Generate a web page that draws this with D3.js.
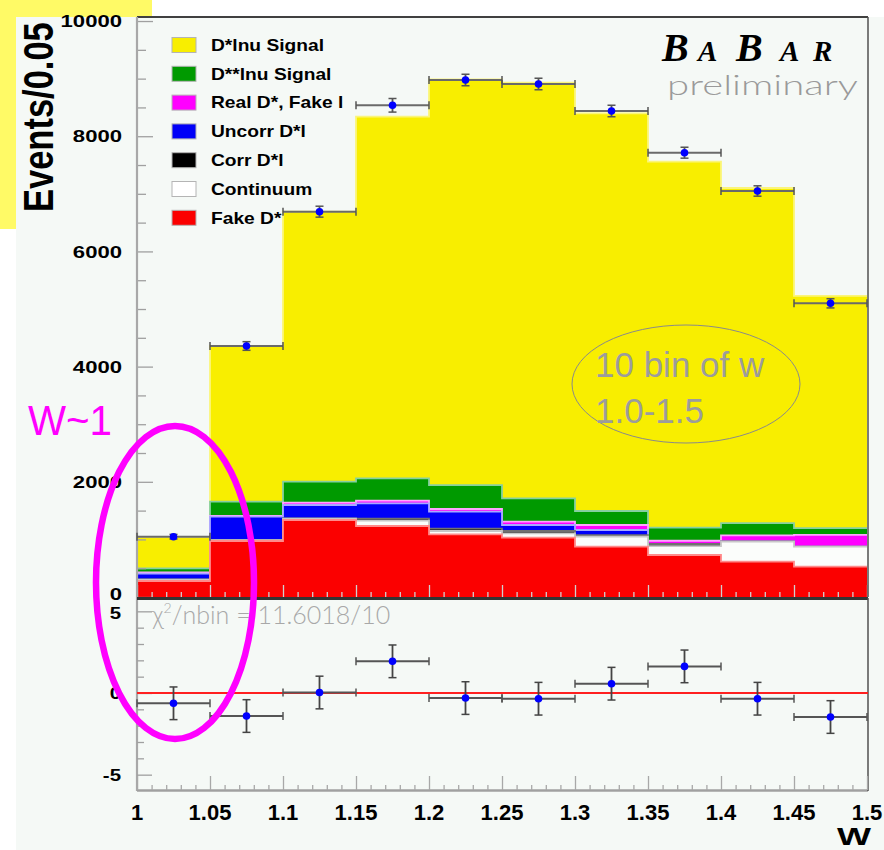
<!DOCTYPE html>
<html>
<head>
<meta charset="utf-8">
<script src="https://cdn.jsdelivr.net/npm/d3@7"></script>
<style>
  html, body { margin: 0; padding: 0; background: #ffffff; }
  svg { display: block; font-family: "Liberation Sans", Arial, Helvetica, sans-serif; }
</style>
</head>
<body>
<svg id="chart" width="884" height="850"></svg>
<script>
// ---- binning in w ----
const binLow  = [1.00, 1.05, 1.10, 1.15, 1.20, 1.25, 1.30, 1.35, 1.40, 1.45];
const binHigh = [1.05, 1.10, 1.15, 1.20, 1.25, 1.30, 1.35, 1.40, 1.45, 1.50];

// ---- stacked MC components (events per bin), bottom to top ----
const fakeDstar   = [278, 972, 1337, 1233, 1088, 1030, 873, 729, 613, 526];
const continuum   = [25, 13, 25, 92, 58, 76, 174, 156, 347, 347];
const corrDl      = [4, 5, 3, 35, 40, 40, 29, 35, 5, 3];
const uncorrDl    = [98, 404, 232, 266, 295, 104, 87, 0, 0, 0];
const realDfakeL  = [20, 16, 40, 46, 47, 58, 87, 57, 104, 203];
const dssLnu      = [73, 245, 365, 388, 416, 406, 243, 226, 215, 116];
const dsLnu       = [542, 2703, 4688, 6279, 7044, 7215, 6905, 6355, 5817, 4034];

const layerKeys   = ["fake", "cont", "corr", "uncorr", "real", "dss", "ds"];
const layerNames  = ["Fake D*", "Continuum", "Corr D*l", "Uncorr D*l", "Real D*, Fake l", "D**lnu Signal", "D*lnu Signal"];
const layerColors = ["#fb0000", "#fbfdfb", "#000000", "#0000f8", "#ff00ff", "#009a00", "#f8ee00"];
const layerEdges  = ["#ff8a8a", "#c8c8c8", "#707070", "#a8a8ff", "#ffa6ff", "#86cfa0", "#fbf57a"];

// ---- data ----
const dataCounts = [1047, 4358, 6690, 8537, 8976, 8907, 8438, 7714, 7049, 5099];
const dataErrors = [40, 75, 95, 118, 100, 100, 100, 95, 90, 80];

// ---- residuals (data - MC) / sigma ----
const residuals      = [-0.63, -1.41, 0.03, 1.94, -0.31, -0.35, 0.57, 1.63, -0.35, -1.47];
const residualErrors = [1, 1, 1, 1, 1, 1, 1, 1, 1, 1];

// ---- tick labels ----
const yMainTicks   = [0, 2000, 4000, 6000, 8000, 10000];
const yResTicks    = [-5, 0, 5];
const xTickValues  = [1, 1.05, 1.1, 1.15, 1.2, 1.25, 1.3, 1.35, 1.4, 1.45, 1.5];
const xTickLabels  = ["1", "1.05", "1.1", "1.15", "1.2", "1.25", "1.3", "1.35", "1.4", "1.45", "1.5"];

const svg = d3.select("#chart");
const SERIF = "'Liberation Serif', 'DejaVu Serif', 'Times New Roman', serif";
const THIN = "Lato, 'Open Sans', 'DejaVu Sans', sans-serif";

// scales
const x  = d3.scaleLinear().domain([1, 1.5]).range([137, 867]);
const y  = d3.scaleLinear().domain([0, 10070]).range([597, 17]);
const yr = d3.scaleLinear().domain([-6, 6]).range([791, 595]);

// page: highlight box behind the axis title, then the canvas
svg.append("rect").attr("x", 0).attr("y", 0).attr("width", 152).attr("height", 229).attr("fill", "#fffa66");
svg.append("rect").attr("x", 16).attr("y", 17).attr("width", 868).attr("height", 833).attr("fill", "#f5f9f6");

// ---- stacked histogram ----
const rows = binLow.map((lo, i) => ({
  lo, hi: binHigh[i],
  fake: fakeDstar[i], cont: continuum[i], corr: corrDl[i], uncorr: uncorrDl[i],
  real: realDfakeL[i], dss: dssLnu[i], ds: dsLnu[i]
}));
const series = d3.stack().keys(layerKeys)(rows);

const histG = svg.append("g");
// draw the cumulative histograms from the largest down, each one covering the lower part
for (let k = series.length - 1; k >= 0; k--) {
  const s = series[k];
  histG.selectAll(null).data(s).enter().append("rect")
    .attr("x", d => x(d.data.lo))
    .attr("width", d => x(d.data.hi) - x(d.data.lo))
    .attr("y", d => y(d[1]))
    .attr("height", d => y(0) - y(d[1]))
    .attr("fill", layerColors[k]);
  // top outline of this cumulative histogram
  let p = "";
  s.forEach((d, i) => {
    p += (i === 0 ? "M" : "L") + x(d.data.lo) + "," + y(d[1]) + "L" + x(d.data.hi) + "," + y(d[1]);
  });
  histG.append("path").attr("d", p).attr("fill", "none")
    .attr("stroke", layerEdges[k]).attr("stroke-width", 1.8);
}

// ---- main panel frame and axes ----
const frameG = svg.append("g");
// inside ticks on the left axis (major every 2000, minor every 500)
const yMinor = d3.range(0, 10001, 500).filter(v => v % 2000 !== 0);
frameG.append("g").attr("transform", "translate(137,0)")
  .call(d3.axisRight(y).tickValues(yMinor).tickSize(9).tickFormat(""))
  .call(g => g.select(".domain").remove())
  .call(g => g.selectAll("line").attr("stroke", "#a0a0a0").attr("stroke-width", 1.3));
frameG.append("g").attr("transform", "translate(137,0)")
  .call(d3.axisRight(y).tickValues(yMainTicks).tickSize(16).tickFormat(""))
  .call(g => g.select(".domain").remove())
  .call(g => g.selectAll("line").attr("stroke", "#a0a0a0").attr("stroke-width", 1.3));
// inside ticks on the bottom of the main panel
const xMinor = d3.range(1.0, 1.5001, 0.01).filter(v => Math.abs(v * 20 - Math.round(v * 20)) > 1e-6);
frameG.append("g").attr("transform", "translate(0,597)")
  .call(d3.axisTop(x).tickValues(xMinor).tickSize(5).tickFormat(""))
  .call(g => g.select(".domain").remove())
  .call(g => g.selectAll("line").attr("stroke", "#cfcfcf").attr("stroke-width", 1.3));
frameG.append("g").attr("transform", "translate(0,597)")
  .call(d3.axisTop(x).tickValues(xTickValues).tickSize(12).tickFormat(""))
  .call(g => g.select(".domain").remove())
  .call(g => g.selectAll("line").attr("stroke", "#cfcfcf").attr("stroke-width", 1.3));

// frame lines
frameG.append("line").attr("x1", 137).attr("x2", 868).attr("y1", 17).attr("y2", 17).attr("stroke", "#404040").attr("stroke-width", 2);
frameG.append("line").attr("x1", 868).attr("x2", 868).attr("y1", 17).attr("y2", 597).attr("stroke", "#505050").attr("stroke-width", 1.5);
frameG.append("line").attr("x1", 137).attr("x2", 137).attr("y1", 17).attr("y2", 791).attr("stroke", "#a8a8a8").attr("stroke-width", 2.2);

// main y labels
svg.append("g").selectAll("text").data(yMainTicks).enter().append("text")
  .attr("transform", d => `translate(122,${y(d) - (d === 0 ? 3 : 0)}) scale(1.3,1)`)
  .attr("text-anchor", "end").attr("dy", "0.36em")
  .attr("font-size", 17).attr("font-weight", "bold").attr("fill", "#000")
  .text(d => d);

// axis title (glyphs stretched across the baseline)
svg.append("text")
  .attr("transform", "translate(53,212) rotate(-90) scale(1,1.22)")
  .attr("font-size", 34.5).attr("font-weight", "bold").attr("fill", "#000")
  .text("Events/0.05");

// ---- data points ----
const ptsG = svg.append("g");
dataCounts.forEach((v, i) => {
  const cx = x((binLow[i] + binHigh[i]) / 2), cy = y(v);
  const xl = x(binLow[i]), xh = x(binHigh[i]);
  ptsG.append("line").attr("x1", xl).attr("x2", xh).attr("y1", cy).attr("y2", cy).attr("stroke", "#6a6a6a").attr("stroke-width", 2);
  ptsG.append("line").attr("x1", xl).attr("x2", xl).attr("y1", cy - 4).attr("y2", cy + 4).attr("stroke", "#555").attr("stroke-width", 1.5);
  ptsG.append("line").attr("x1", xh).attr("x2", xh).attr("y1", cy - 4).attr("y2", cy + 4).attr("stroke", "#555").attr("stroke-width", 1.5);
  const e1 = y(v + dataErrors[i]), e2 = y(v - dataErrors[i]);
  ptsG.append("line").attr("x1", cx).attr("x2", cx).attr("y1", e1).attr("y2", e2).attr("stroke", "#555").attr("stroke-width", 1.8);
  ptsG.append("line").attr("x1", cx - 4).attr("x2", cx + 4).attr("y1", e1).attr("y2", e1).attr("stroke", "#555").attr("stroke-width", 1.5);
  ptsG.append("line").attr("x1", cx - 4).attr("x2", cx + 4).attr("y1", e2).attr("y2", e2).attr("stroke", "#555").attr("stroke-width", 1.5);
  ptsG.append("circle").attr("cx", cx).attr("cy", cy).attr("r", 3.8).attr("fill", "#0000ff");
});

// ---- legend ----
const legG = svg.append("g");
const legendOrder = d3.range(layerNames.length).reverse();
legendOrder.forEach((k, r) => {
  const ly = 45 + r * 28.8;
  legG.append("rect").attr("x", 172).attr("y", ly - 7.5).attr("width", 24).attr("height", 15)
    .attr("fill", layerColors[k] === "#fbfdfb" ? "#ffffff" : layerColors[k])
    .attr("stroke", "#b4b4b4").attr("stroke-width", 1);
  legG.append("text")
    .attr("transform", `translate(211,${ly}) scale(1.2,1)`)
    .attr("dy", "0.36em").attr("font-size", 16).attr("font-weight", "bold").attr("fill", "#000")
    .text(layerNames[k]);
});

// ---- BABAR logo: large B, small-cap A and R ----
const logo = svg.append("text").attr("y", 61)
  .attr("font-family", SERIF).attr("font-weight", "bold").attr("font-style", "italic")
  .attr("fill", "#000");
[["B", 662, 40], ["A", 698, 29], ["B", 736, 40], ["A", 780, 29], ["R", 813, 29]].forEach(([ch, lx, fs]) => {
  logo.append("tspan").attr("x", lx).attr("font-size", fs).text(ch);
});
svg.append("text").attr("x", 667).attr("y", 95)
  .attr("font-family", THIN).attr("font-weight", 300)
  .attr("font-size", 28).attr("fill", "#9a9a9a")
  .attr("textLength", 191).attr("lengthAdjust", "spacingAndGlyphs")
  .text("preliminary");

// ---- annotation in the signal region ----
svg.append("ellipse").attr("cx", 686).attr("cy", 384).attr("rx", 114).attr("ry", 59)
  .attr("fill", "none").attr("stroke", "#8a8a8a").attr("stroke-width", 1);
svg.append("text").attr("x", 595).attr("y", 377).attr("font-size", 35).attr("fill", "#9c9c9c").text("10 bin of w");
svg.append("text").attr("x", 595).attr("y", 423).attr("font-size", 35).attr("fill", "#9c9c9c").text("1.0-1.5");

// ---- residual panel ----
const resG = svg.append("g");
// separator between the panels
resG.append("line").attr("x1", 137).attr("x2", 868).attr("y1", 598.5).attr("y2", 598.5).attr("stroke", "#333").attr("stroke-width", 3);
// frame
resG.append("line").attr("x1", 137).attr("x2", 868).attr("y1", 790.5).attr("y2", 790.5).attr("stroke", "#a0a0a0").attr("stroke-width", 2.5);
resG.append("line").attr("x1", 868).attr("x2", 868).attr("y1", 598).attr("y2", 791).attr("stroke", "#505050").attr("stroke-width", 1.5);
// left ticks
resG.append("g").attr("transform", "translate(137,0)")
  .call(d3.axisRight(yr).tickValues(d3.range(-5, 6).filter(v => v % 5 !== 0)).tickSize(7).tickFormat(""))
  .call(g => g.select(".domain").remove())
  .call(g => g.selectAll("line").attr("stroke", "#a0a0a0").attr("stroke-width", 1.3));
resG.append("g").attr("transform", "translate(137,0)")
  .call(d3.axisRight(yr).tickValues(yResTicks).tickSize(15).tickFormat(""))
  .call(g => g.select(".domain").remove())
  .call(g => g.selectAll("line").attr("stroke", "#a0a0a0").attr("stroke-width", 1.3));
// bottom ticks
resG.append("g").attr("transform", "translate(0,790)")
  .call(d3.axisTop(x).tickValues(xMinor).tickSize(5).tickFormat(""))
  .call(g => g.select(".domain").remove())
  .call(g => g.selectAll("line").attr("stroke", "#a8a8a8").attr("stroke-width", 1.3));
resG.append("g").attr("transform", "translate(0,790)")
  .call(d3.axisTop(x).tickValues(xTickValues).tickSize(14).tickFormat(""))
  .call(g => g.select(".domain").remove())
  .call(g => g.selectAll("line").attr("stroke", "#a8a8a8").attr("stroke-width", 1.3));

// zero line
resG.append("line").attr("x1", 137).attr("x2", 868).attr("y1", yr(0)).attr("y2", yr(0))
  .attr("stroke", "#ff2020").attr("stroke-width", 2);

// residual y labels
resG.selectAll("text.yl").data(yResTicks).enter().append("text")
  .attr("transform", d => `translate(121,${yr(d) + (d === 5 ? 2 : 0)}) scale(1.2,1)`)
  .attr("text-anchor", "end").attr("dy", "0.36em")
  .attr("font-size", 17).attr("font-weight", "bold").attr("fill", "#000")
  .text(d => d);

// x tick labels
resG.selectAll("text.xl").data(xTickValues).enter().append("text")
  .attr("x", d => x(d)).attr("y", 812).attr("dy", "0.36em")
  .attr("text-anchor", "middle").attr("font-size", 22).attr("font-weight", "bold").attr("fill", "#000")
  .text((d, i) => xTickLabels[i]);

// axis title
resG.append("text").attr("transform", "translate(871,845) scale(1.5,1)")
  .attr("text-anchor", "end").attr("font-size", 24).attr("font-weight", "bold").attr("fill", "#000")
  .text("W");

// chi2 text
const chi = resG.append("text").attr("x", 152).attr("y", 624)
  .attr("font-family", THIN).attr("font-weight", 300)
  .attr("font-size", 25).attr("fill", "#a8a8a8");
chi.append("tspan").text("\u03c7");
chi.append("tspan").attr("font-size", 14).attr("dy", -11).text("2");
chi.append("tspan").attr("dy", 11).text("/nbin = 11.6018/10");

// residual points
residuals.forEach((v, i) => {
  const cx = x((binLow[i] + binHigh[i]) / 2), cy = yr(v);
  const xl = x(binLow[i]), xh = x(binHigh[i]);
  resG.append("line").attr("x1", xl).attr("x2", xh).attr("y1", cy).attr("y2", cy).attr("stroke", "#555").attr("stroke-width", 2);
  resG.append("line").attr("x1", xl).attr("x2", xl).attr("y1", cy - 4).attr("y2", cy + 4).attr("stroke", "#555").attr("stroke-width", 1.5);
  resG.append("line").attr("x1", xh).attr("x2", xh).attr("y1", cy - 4).attr("y2", cy + 4).attr("stroke", "#555").attr("stroke-width", 1.5);
  const e1 = yr(v + residualErrors[i]), e2 = yr(v - residualErrors[i]);
  resG.append("line").attr("x1", cx).attr("x2", cx).attr("y1", e1).attr("y2", e2).attr("stroke", "#444").attr("stroke-width", 1.8);
  resG.append("line").attr("x1", cx - 4).attr("x2", cx + 4).attr("y1", e1).attr("y2", e1).attr("stroke", "#444").attr("stroke-width", 1.5);
  resG.append("line").attr("x1", cx - 4).attr("x2", cx + 4).attr("y1", e2).attr("y2", e2).attr("stroke", "#444").attr("stroke-width", 1.5);
  resG.append("circle").attr("cx", cx).attr("cy", cy).attr("r", 3.8).attr("fill", "#0000ff");
});

// ---- highlight of the w ~ 1 bin ----
svg.append("ellipse").attr("cx", 175).attr("cy", 582.5).attr("rx", 79).attr("ry", 156.5)
  .attr("fill", "none").attr("stroke", "#ff00ff").attr("stroke-width", 6.5);
svg.append("text").attr("x", 28).attr("y", 435).attr("font-size", 42).attr("fill", "#ff00ff")
  .attr("textLength", 84).attr("lengthAdjust", "spacingAndGlyphs")
  .text("W~1");
</script>
</body>
</html>
